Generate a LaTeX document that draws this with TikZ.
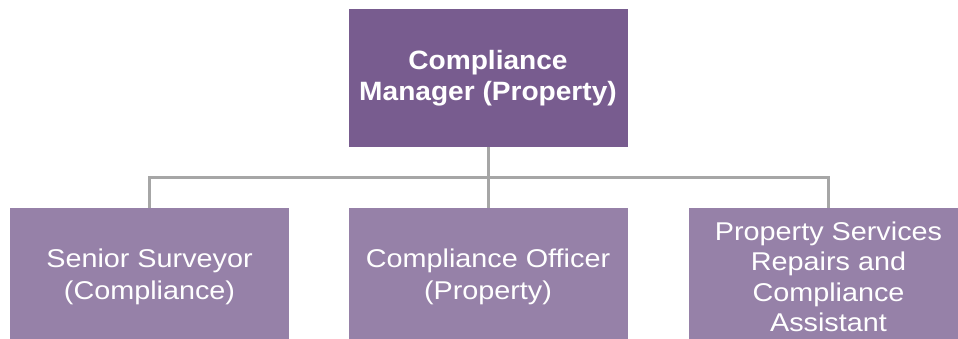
\documentclass[tikz,border=0pt]{standalone}
\usepackage{fontspec}
\setmainfont{Liberation Sans}
\newfontfamily\rolefont[FakeStretch=1.12]{Liberation Sans}
\newfontfamily\capofont[FakeStretch=1.06]{Liberation Sans}
\definecolor{capo}{HTML}{785C8F}
\definecolor{ruolo}{HTML}{9681A8}
\definecolor{linea}{HTML}{A6A6A6}
\begin{document}
\begin{tikzpicture}[x=1pt, y=-1pt,
		box/.style={fill=ruolo, text=white, minimum width=279pt, minimum height=138pt, inner sep=0pt, align=center, font=\rolefont\fontsize{25.7}{32}\selectfont},
		capobox/.style={box, fill=capo, font=\capofont\bfseries\fontsize{26.5}{31}\selectfont},
		conn/.style={color=linea, line width=3pt}]
		\useasboundingbox (0,0) rectangle (958,339);
		
		% responsabile
		\node[capobox] (mgr) at (488,78) {Compliance\\Manager (Property)};
		
		% ruoli
		\node[box] (surv) at (149.5,277) {Senior Surveyor\\(Compliance)};
		\node[box] (off) at (488,277) {Compliance Officer\\(Property)};
		\node[box, font=\rolefont\fontsize{25.7}{30.4}\selectfont] (asst) at (828.5,277) {Property Services\\Repairs and\\Compliance\\Assistant};
		
		% collegamenti
		\coordinate (bus) at (488,178);
		\draw[conn] (mgr.south) -- (off.north);
		\draw[conn] (surv.north) |- (bus) -| (asst.north);
	\end{tikzpicture}
\end{document}
